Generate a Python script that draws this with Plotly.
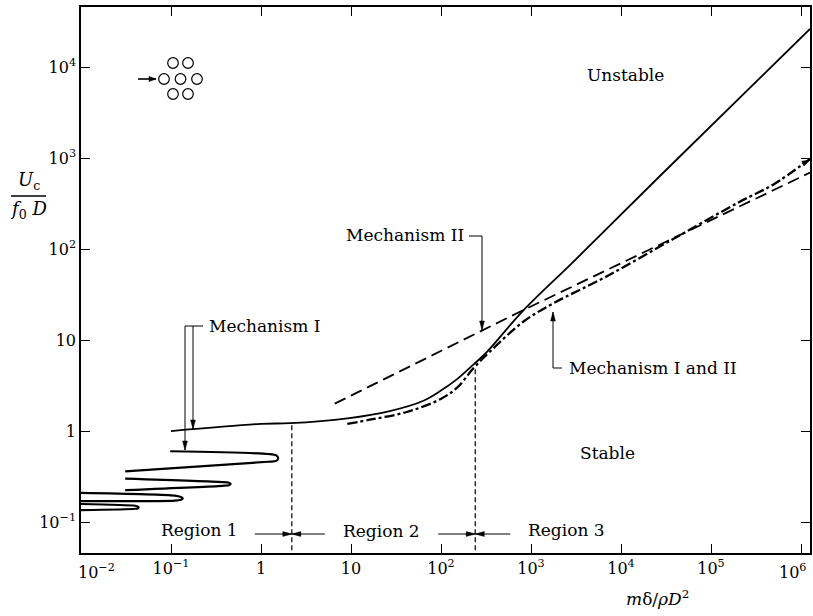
import numpy as np
import plotly.graph_objects as go

# ---------------- data ----------------
x_tickvals = [1e-2, 1e-1, 1, 10, 1e2, 1e3, 1e4, 1e5, 1e6]
x_ticktext = ["10<sup>−2</sup>", "10<sup>−1</sup>", "1", "10", "10<sup>2</sup>",
              "10<sup>3</sup>", "10<sup>4</sup>", "10<sup>5</sup>", "10<sup>6</sup>"]
y_tickvals = [1e-1, 1, 10, 1e2, 1e3, 1e4]
y_ticktext = ["10<sup>−1</sup>", "1", "10", "10<sup>2</sup>", "10<sup>3</sup>", "10<sup>4</sup>"]

# overall stability boundary (solid)
solid_x = [0.1, 1, 2.1, 9.1, 27, 63, 98, 151, 229, 324, 813, 2950, 26900, 1.26e6]
solid_y = [1.0, 1.2, 1.22, 1.38, 1.66, 2.14, 2.75, 3.72, 5.37, 7.41, 20.9, 72.4, 631, 26300]

# Mechanism II (dashed)
mech2_x = [6.6, 794, 1.26e6]
mech2_y = [2.0, 21, 692]

# Mechanism I and II (dash-dot)
mech12_x = [9.1, 17.4, 41.7, 98, 151, 229, 347, 813, 1740, 6900, 38000, 209000, 490000, 1.26e6]
mech12_y = [1.2, 1.35, 1.62, 2.24, 3.0, 4.9, 7.4, 15.8, 25.1, 50, 129, 331, 510, 977]

# Region-1 multiple stability loops
loopA_x = [0.098, 1.2, 1.48, 1.55, 1.48, 1.2, 0.031]
loopA_y = [0.60, 0.56, 0.54, 0.50, 0.47, 0.46, 0.36]
loopB_x = [0.031, 0.37, 0.44, 0.46, 0.44, 0.37, 0.031]
loopB_y = [0.30, 0.275, 0.27, 0.263, 0.254, 0.25, 0.224]
loopC_x = [0.01, 0.11, 0.129, 0.135, 0.129, 0.11, 0.01]
loopC_y = [0.209, 0.195, 0.188, 0.182, 0.176, 0.172, 0.170]
loopD_x = [0.01, 0.04, 0.043, 0.0437, 0.043, 0.04, 0.01]
loopD_y = [0.158, 0.151, 0.148, 0.145, 0.142, 0.140, 0.135]

# region boundaries
boundary_x = [2.2, 240]
boundary_top = [1.2, 4.8]

# ---------------- layout helpers ----------------
W, H = 813, 616
ML, MR, MT, MB = 81, 3, 7, 63
PW, PH = W - ML - MR, H - MT - MB
XR = [-2, 6.1]
YR = [-1.34, 4.66]
FONT = "DejaVu Serif"


def PX(x):
    return (x - ML) / PW


def PY(y):
    return (H - MB - y) / PH


def data_px(xv):
    return ML + (np.log10(xv) - XR[0]) / (XR[1] - XR[0]) * PW


fig = go.Figure()

fig.add_trace(go.Scatter(x=solid_x, y=solid_y, mode="lines",
                         line=dict(color="black", width=1.8, shape="spline", smoothing=1.0)))
fig.add_trace(go.Scatter(x=mech2_x, y=mech2_y, mode="lines",
                         line=dict(color="black", width=1.8, dash="12px,6px")))
fig.add_trace(go.Scatter(x=mech12_x, y=mech12_y, mode="lines",
                         line=dict(color="black", width=2.3, dash="10px,3px,3px,3px", shape="spline", smoothing=1.0)))
for lx, ly in [(loopA_x, loopA_y), (loopB_x, loopB_y), (loopC_x, loopC_y), (loopD_x, loopD_y)]:
    fig.add_trace(go.Scatter(x=lx, y=ly, mode="lines",
                             line=dict(color="black", width=2.2, shape="spline", smoothing=0.8)))
for bx, bt in zip(boundary_x, boundary_top):
    fig.add_trace(go.Scatter(x=[bx, bx], y=[0.04, bt], mode="lines",
                             line=dict(color="black", width=1.2, dash="5px,3px")))

ann = []


def text(t, x, y, xanchor="center", size=17):
    ann.append(dict(text=t, x=PX(x), y=PY(y), xref="paper", yref="paper", showarrow=False,
                    xanchor=xanchor, yanchor="middle", font=dict(family=FONT, size=size, color="black")))


text("Unstable", 625, 75)
text("Stable", 607, 453)
text("Region 1", 199, 530)
text("Region 2", 381, 531)
text("Region 3", 566, 530)
text("Mechanism I", 207, 326, "left")
text("Mechanism II", 466, 235, "right")
text("Mechanism I and II", 567, 368, "left")
text("<i>U</i><sub>c</sub>", 29, 181, size=18)
text("<i>f</i><sub>0</sub> <i>D</i>", 28, 210, size=18)
text("<i>m</i>δ/<i>ρD</i><sup>2</sup>", 657, 598)
# edge tick labels, offset inward as in the original typesetting
text(x_ticktext[0], 96, 571, size=16)
text(x_ticktext[-1], 808, 571, "right", size=16)

shapes = []


def seg(x0, y0, x1, y1, w=1):
    shapes.append(dict(type="line", xref="paper", yref="paper", x0=PX(x0), y0=PY(y0), x1=PX(x1), y1=PY(y1),
                       line=dict(color="black", width=w)))


def head(tx, ty, dx, dy, L=9, hw=2.4):
    n = np.hypot(dx, dy)
    ux, uy = dx / n, dy / n
    bx, by = tx - L * ux, ty - L * uy
    p1 = (bx - hw * uy, by + hw * ux)
    p2 = (bx + hw * uy, by - hw * ux)
    path = "M {} {} L {} {} L {} {} Z".format(PX(tx), PY(ty), PX(p1[0]), PY(p1[1]), PX(p2[0]), PY(p2[1]))
    shapes.append(dict(type="path", xref="paper", yref="paper", path=path,
                       fillcolor="black", line=dict(color="black", width=0.5)))


def arrow(x0, y0, x1, y1, w=1, L=9, hw=2.4):
    seg(x0, y0, x1, y1, w)
    head(x1, y1, x1 - x0, y1 - y0, L, hw)


# Mechanism brackets
seg(185, 326, 203, 326)
arrow(193, 326, 193, 429)
arrow(185, 326, 185, 450)
seg(469, 236, 482, 236)
arrow(482, 236, 482, 330)
seg(553, 368, 562, 368)
arrow(553, 368, 553, 312)
# end arrow of the dash-dot curve
head(810, 160, 12, -6, L=8, hw=2.6)
# fraction bar of the y label
seg(11, 196, 46, 196, 1.3)
# region arrows converging on boundaries
for bx, left_len, right_len in zip(boundary_x, [37, 37], [33, 35]):
    bpx = data_px(bx)
    arrow(bpx - left_len, 534, bpx, 534)
    arrow(bpx + right_len, 534, bpx, 534)

# tube-bundle icon with flow arrow
r = 5.3
for cx, cy in [(173, 63), (188, 63), (164, 79), (180.5, 79), (197, 79), (173, 94), (188, 94)]:
    shapes.append(dict(type="circle", xref="paper", yref="paper", x0=PX(cx - r), x1=PX(cx + r),
                       y0=PY(cy + r), y1=PY(cy - r), line=dict(color="black", width=1.2)))
arrow(138, 79, 156, 79, w=1.6, L=7, hw=2.6)

axis_common = dict(type="log", showgrid=False, zeroline=False, showline=True, linecolor="black", linewidth=1.5,
                   mirror="ticks", ticks="inside", ticklen=9, tickwidth=1, tickcolor="black", automargin=False,
                   tickfont=dict(family=FONT, size=16, color="black"))

x_ticktext_axis = [""] + x_ticktext[1:-1] + [""]

fig.update_layout(
    width=W, height=H, margin=dict(l=ML, r=MR, t=MT, b=MB, autoexpand=False),
    paper_bgcolor="white", plot_bgcolor="white", showlegend=False,
    xaxis=dict(range=XR, tickvals=x_tickvals, ticktext=x_ticktext_axis, **axis_common),
    yaxis=dict(range=YR, tickvals=y_tickvals, ticktext=y_ticktext, **axis_common),
    annotations=ann, shapes=shapes,
)

fig.write_html("out.html", config={"displayModeBar": False},
               post_script="document.body.style.margin='0px';document.body.style.padding='0px';")
